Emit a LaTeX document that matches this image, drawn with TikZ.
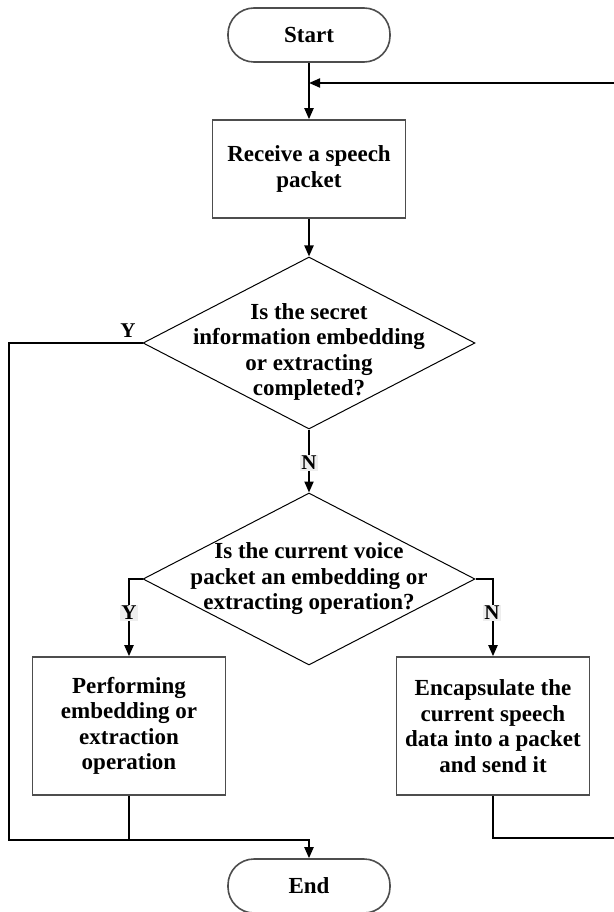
\documentclass[tikz,border=0pt]{standalone}
\usepackage{fontspec}
\setmainfont{Liberation Serif}
\usetikzlibrary{arrows.meta,positioning,shapes.geometric}
\definecolor{ink}{HTML}{000000}
\definecolor{frame}{HTML}{4D4D4D}
\definecolor{tagbg}{HTML}{EEEEEE}

\begin{document}
\begin{tikzpicture}[x=1pt,y=-1pt,
  every node/.style={font=\fontsize{23}{25.5}\selectfont\bfseries},
  terminal/.style={draw=frame,line width=1.6pt,rounded corners=26pt,minimum width=162pt,minimum height=54pt},
  process/.style={draw=frame,line width=1.6pt,align=center,minimum width=193pt},
  decision/.style={diamond,draw=ink,line width=1pt,inner sep=0pt,minimum width=332pt,minimum height=172pt},
  flow/.style={draw=ink,line width=2pt},
  arrowflow/.style={flow,-{Triangle[length=11pt,width=9pt]}},
  tag/.style={font=\fontsize{21}{24}\selectfont\bfseries,inner sep=1.5pt}]
  \useasboundingbox (0,0) rectangle (613,912);

  % shapes
  \node[terminal] (start) at (309,35) {Start};
  \node[process,minimum height=98pt] (recv) at (309,169) {Receive a speech\\packet};
  \node[decision] (check) at (309,343) {};
  \node[align=center] (checktxt) at (309,352) {Is the secret\\information embedding\\or extracting\\completed?};
  \node[decision] (mode) at (309,579) {};
  \node[align=center] (modetxt) at (309,579) {Is the current voice\\packet an embedding or\\extracting operation?};
  \node[process,minimum height=138pt] (embed) at (129,726) {Performing\\embedding or\\extraction\\operation};
  \node[process,minimum height=138pt] (encap) at (493,726) {Encapsulate the\\current speech\\data into a packet\\and send it};
  \node[terminal] (end) at (309,886) {End};

  \coordinate (join) at (309,83);
  \coordinate (back) at (616,838);
  \coordinate (rail) at (9,840);

  % connectors
  \draw[arrowflow] (start) -- (recv);
  \draw[arrowflow] (recv) -- (check);
  \draw[arrowflow] (check.south) -- (mode.north);
  \draw[arrowflow] (mode.west) -| (embed.north);
  \draw[arrowflow] (mode.east) -| (encap.north);
  \draw[arrowflow] (check.west) -| (rail) -| (end.north);
  \draw[flow] (embed.south) -- (embed.south |- rail);
  \draw[arrowflow] (encap.south) |- (back) |- (join);

  % branch labels
  \node[tag] (yes1) at (128,331) {Y};
  \node[tag,fill=tagbg] (no1) at (309,463) {N};
  \node[tag,fill=tagbg] (yes2) at (129,613) {Y};
  \node[tag,fill=tagbg] (no2) at (492,613) {N};
\end{tikzpicture}
\end{document}
